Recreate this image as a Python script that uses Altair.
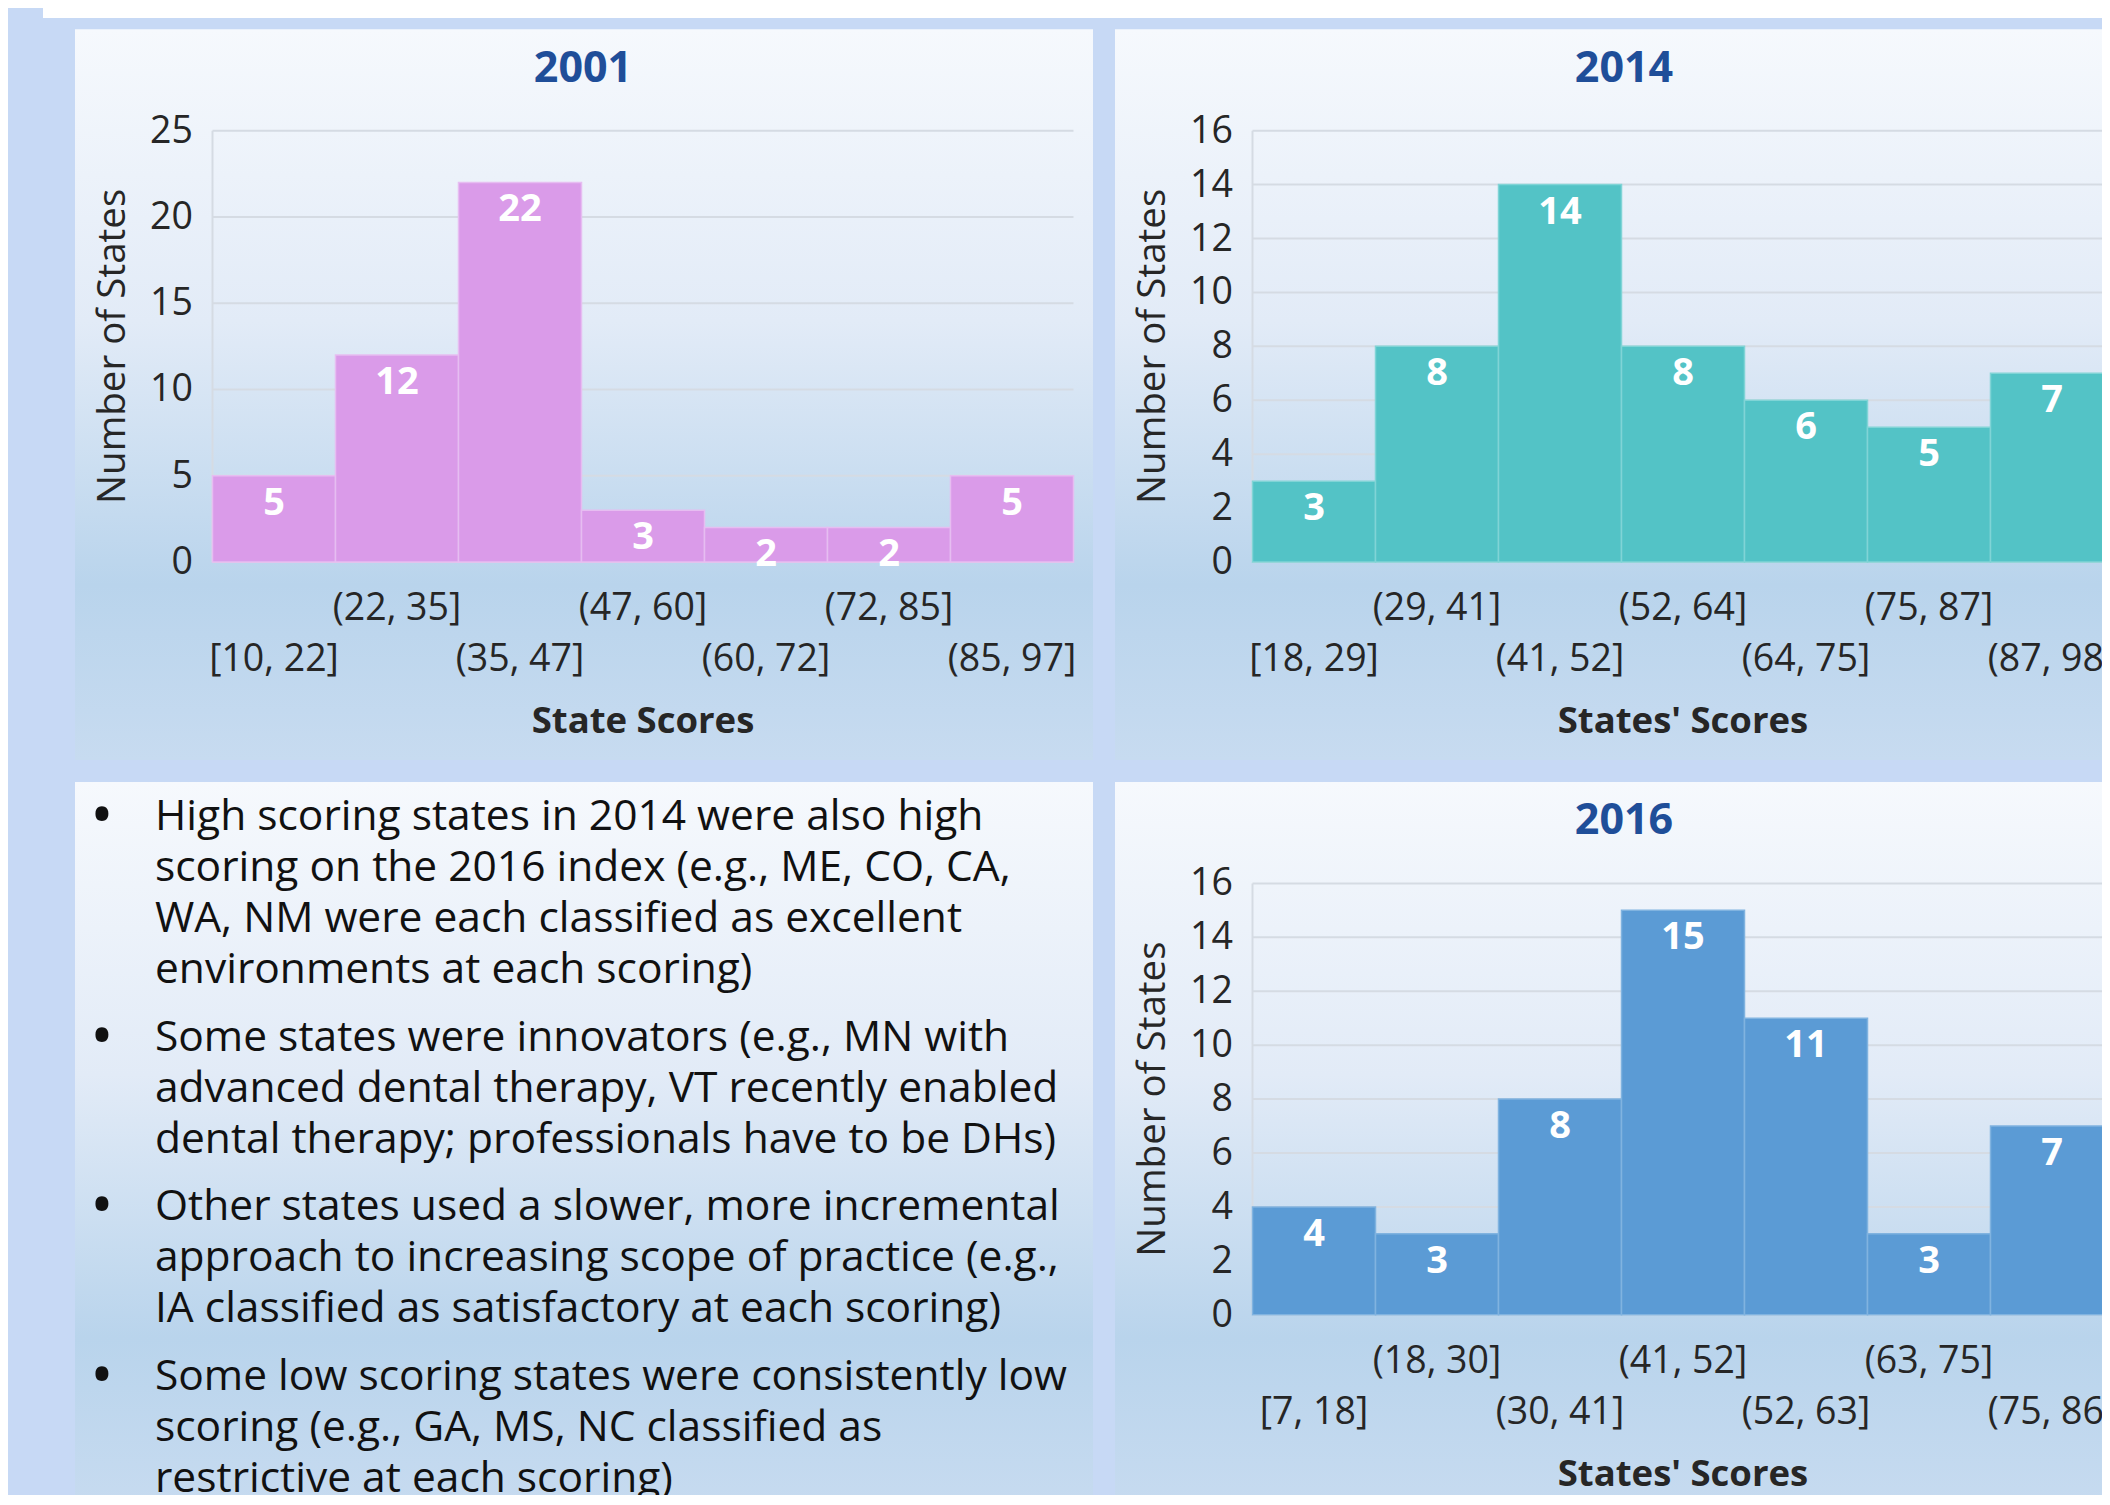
import altair as alt
import pandas as pd

# ---------------- data ----------------
bins_2001 = ["[10, 22]", "(22, 35]", "(35, 47]", "(47, 60]", "(60, 72]", "(72, 85]", "(85, 97]"]
counts_2001 = [5, 12, 22, 3, 2, 2, 5]
ticks_2001 = [0, 5, 10, 15, 20, 25]

bins_2014 = ["[18, 29]", "(29, 41]", "(41, 52]", "(52, 64]", "(64, 75]", "(75, 87]", "(87, 98]"]
counts_2014 = [3, 8, 14, 8, 6, 5, 7]
ticks_2014 = [0, 2, 4, 6, 8, 10, 12, 14, 16]

bins_2016 = ["[7, 18]", "(18, 30]", "(30, 41]", "(41, 52]", "(52, 63]", "(63, 75]", "(75, 86]"]
counts_2016 = [4, 3, 8, 15, 11, 3, 7]
ticks_2016 = [0, 2, 4, 6, 8, 10, 12, 14, 16]

bullets = [
    ["High scoring states in 2014 were also high",
     "scoring on the 2016 index (e.g., ME, CO, CA,",
     "WA, NM  were each classified as excellent",
     "environments at each scoring)"],
    ["Some states were innovators (e.g., MN with",
     "advanced dental therapy, VT recently enabled",
     "dental therapy; professionals have to be DHs)"],
    ["Other states used a slower, more incremental",
     "approach to increasing scope of practice (e.g.,",
     "IA classified as satisfactory at each scoring)"],
    ["Some low scoring states were consistently low",
     "scoring (e.g., GA, MS, NC classified as",
     "restrictive at each scoring)"],
]

# ---------------- style / layout ----------------
W, H = 2094, 1487
BG = "#c7d9f5"
FONT = "Open Sans"
TITLE_COLOR = "#1f4e99"
TEXT_COLOR = "#262626"
GRID = "#d5dbe3"
TICK_FS = 37.5

panel_grad = alt.LinearGradient(
    gradient="linear",
    stops=[
        alt.GradientStop(offset=0, color="#f6f9fd"),
        alt.GradientStop(offset=0.4, color="#e2ebf7"),
        alt.GradientStop(offset=0.76, color="#b9d4ec"),
        alt.GradientStop(offset=1, color="#c7dbf0"),
    ],
    x1=0, x2=0, y1=0, y2=1,
)

one = pd.DataFrame({"k": [0]})


def box(x0, y0, x1, y1, fill):
    return alt.Chart(one).mark_rect(fill=fill).encode(
        x=alt.value(x0), x2=alt.value(x1), y=alt.value(y0), y2=alt.value(y1)
    )


def panel(title, xtitle, bins, counts, ticks, color, sep,
          px0, px1, ptop, pbot, bx0, by0, bx1, by1, title_x):
    df = pd.DataFrame({"bin": bins, "count": counts, "idx": list(range(len(bins)))})
    tdf = pd.DataFrame({"tick": ticks})
    xs = alt.Scale(domain=bins, range=[px0, px1], paddingInner=0, paddingOuter=0)
    ys = alt.Scale(domain=[0, ticks[-1]], range=[pbot, ptop], nice=False)
    X = alt.X("bin:N", scale=xs, axis=None)

    bg = box(bx0, by0, bx1, by1, panel_grad)

    grid = alt.Chart(tdf).mark_rule(color=GRID, strokeWidth=2).encode(
        y=alt.Y("tick:Q", scale=ys, axis=None),
        x=alt.value(px0), x2=alt.value(px1),
    )
    yline = alt.Chart(one).mark_rule(color=GRID, strokeWidth=2).encode(
        x=alt.value(px0), y=alt.value(ptop), y2=alt.value(pbot)
    )
    bars = alt.Chart(df).mark_bar(color=color, stroke=sep, strokeWidth=1.5).encode(
        x=X, y=alt.Y("count:Q", scale=ys, axis=None, stack=None)
    )
    values = alt.Chart(df).mark_text(
        color="white", font=FONT, fontSize=38, fontWeight="bold",
        baseline="middle", dy=28,
    ).encode(x=X, y=alt.Y("count:Q", scale=ys, axis=None), text="count:Q")

    yticks = alt.Chart(tdf).mark_text(
        align="right", baseline="middle", font=FONT, fontSize=TICK_FS, color=TEXT_COLOR, dy=1
    ).encode(
        y=alt.Y("tick:Q", scale=ys, axis=None),
        x=alt.value(px0 - 19.5),
        text="tick:Q",
    )
    xlab_up = alt.Chart(df).transform_filter("datum.idx % 2 == 1").mark_text(
        align="center", baseline="middle", font=FONT, fontSize=TICK_FS, color=TEXT_COLOR
    ).encode(x=X, y=alt.value(pbot + 47), text="bin:N")
    xlab_low = alt.Chart(df).transform_filter("datum.idx % 2 == 0").mark_text(
        align="center", baseline="middle", font=FONT, fontSize=TICK_FS, color=TEXT_COLOR
    ).encode(x=X, y=alt.value(pbot + 98), text="bin:N")

    ttl = alt.Chart(one).mark_text(
        text=title, font=FONT, fontSize=43, fontWeight="bold", color=TITLE_COLOR,
        align="center", baseline="middle",
    ).encode(x=alt.value(title_x), y=alt.value(ptop - 62))
    ytitle = alt.Chart(one).mark_text(
        text="Number of States", font=FONT, fontSize=38.5, color=TEXT_COLOR,
        angle=270, align="center", baseline="middle",
    ).encode(x=alt.value(px0 - 99.5), y=alt.value((ptop + pbot) / 2))
    xtitle_m = alt.Chart(one).mark_text(
        text=xtitle, font=FONT, fontSize=36.5, fontWeight="bold", color=TEXT_COLOR,
        align="center", baseline="middle",
    ).encode(x=alt.value((px0 + px1) / 2), y=alt.value(pbot + 160))

    return alt.layer(bg, grid, yline, bars, values, yticks, xlab_up, xlab_low,
                     ttl, ytitle, xtitle_m)


p2001 = panel("2001", "State Scores", bins_2001, counts_2001, ticks_2001,
              "#da9be9", "#e6bdf1",
              204.5, 1065.5, 122.7, 554.0, 67, 21.3, 1085, 752, 575)
p2014 = panel("2014", "States' Scores", bins_2014, counts_2014, ticks_2014,
              "#53c3c6", "#80d4d6",
              1244.5, 2105.5, 122.7, 554.0, 1107, 21.3, 2140, 752, 1616)
p2016 = panel("2016", "States' Scores", bins_2016, counts_2016, ticks_2016,
              "#5b9bd5", "#80b3e0",
              1244.5, 2105.5, 875.4, 1306.7, 1107, 774, 2140, 1505, 1616)

# ---------------- text panel ----------------
rows = []
g = 0
for b, lines in enumerate(bullets):
    for j, t in enumerate(lines):
        rows.append({"text": t, "bullet": b, "line": g, "first": 1 if j == 0 else 0})
        g += 1
tdf_lines = pd.DataFrame(rows)

Y0, LH, GAP = 808.9, 51.1, 16.2
ycalc = f"{Y0} + {LH} * datum.line + {GAP} * datum.bullet"

text_bg = box(67, 774, 1085, 1505, panel_grad)
text_lines = alt.Chart(tdf_lines).transform_calculate(ypos=ycalc).mark_text(
    align="left", baseline="middle", font=FONT, fontSize=42.5, color="#111111"
).encode(
    x=alt.value(147),
    y=alt.Y("ypos:Q", scale=None, axis=None),
    text="text:N",
)
text_dots = alt.Chart(tdf_lines).transform_filter("datum.first == 1").transform_calculate(
    ypos=ycalc
).mark_text(
    text="•", align="center", baseline="middle", font=FONT, fontSize=62, color="#111111"
).encode(
    x=alt.value(94),
    y=alt.Y("ypos:Q", scale=None, axis=None),
)
text_panel = alt.layer(text_bg, text_lines, text_dots)

strip = box(35, 0, 2140, 10, "#ffffff")

chart = alt.layer(p2001, p2014, text_panel, p2016, strip).resolve_scale(
    x="independent", y="independent"
).properties(
    width=W, height=H, padding=0, background=BG,
    autosize=alt.AutoSizeParams(type="none"),
).configure_view(strokeWidth=0, fill=BG)

chart.save("out.html", embed_options={"renderer": "svg", "actions": False})
